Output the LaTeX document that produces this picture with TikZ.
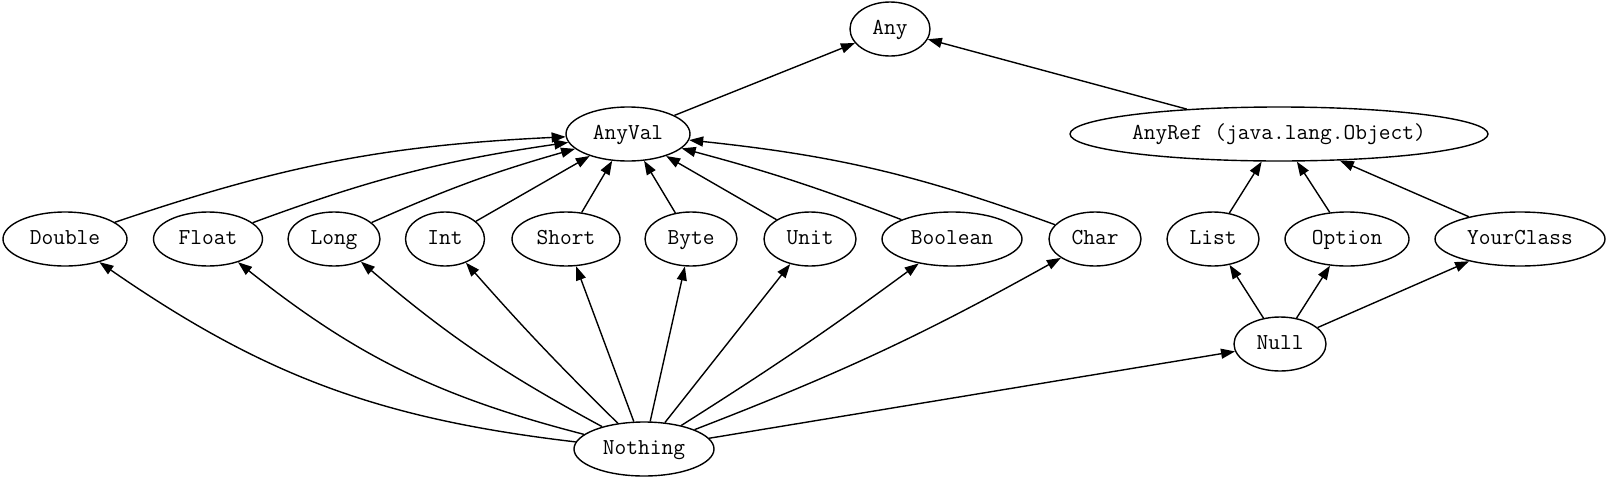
\documentclass[tikz,border=0pt]{standalone}
\usepackage{fontspec}
\usetikzlibrary{shapes.geometric,arrows.meta}

\begin{document}
\begin{tikzpicture}[x=1pt,y=-1pt,
  cls/.style={ellipse,draw,line width=1.4pt,inner sep=0pt,minimum height=54pt,
    text height=14pt,text depth=4pt,
    font=\fontsize{22.8}{26}\selectfont\ttfamily},
  sub/.style={line width=1.4pt,-{Triangle[length=14pt,width=10pt]}}]
  \useasboundingbox (0,0) rectangle (1611,485);
  % top of the hierarchy
  \node[cls,minimum width=80] (Any) at (890,29) {Any};
  \node[cls,minimum width=124] (AnyVal) at (628,134) {AnyVal};
  \node[cls,minimum width=418] (AnyRef) at (1279,134) {AnyRef (java.lang.Object)};
  % value and reference classes
  \foreach \n/\x/\w in {Double/65/124, Float/208/109, Long/334/92, Int/445/79,
      Short/566/108, Byte/691/92, Unit/810/92, Boolean/952/140, Char/1095/92,
      List/1213/92, Option/1347/124, YourClass/1520/170}{
    \node[cls,minimum width=\w] (\n) at (\x,239) {\n};
  }
  % bottom types
  \node[cls,minimum width=92] (Null) at (1280,344) {Null};
  \node[cls,minimum width=140] (Nothing) at (644,449) {Nothing};

  \draw[sub] (AnyVal) -- (Any);
  \draw[sub] (AnyRef) -- (Any);
  \foreach \n/\b in {Double/8, Float/6, Long/4, Int/0, Short/0, Byte/0,
      Unit/0, Boolean/-3, Char/-7}{
    \draw[sub] (\n) to[bend left=\b] (AnyVal);
  }
  \foreach \n/\b in {Double/14, Float/12, Long/6, Int/2, Short/0, Byte/0,
      Unit/0, Boolean/-2, Char/-4}{
    \draw[sub] (Nothing) to[bend left=\b] (\n);
  }
  \foreach \n in {List, Option, YourClass}{
    \draw[sub] (\n) -- (AnyRef);
    \draw[sub] (Null) -- (\n);
  }
  \draw[sub] (Nothing) -- (Null);
\end{tikzpicture}
\end{document}
